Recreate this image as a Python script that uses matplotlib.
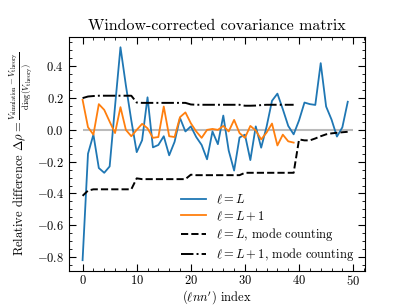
import numpy as np
import matplotlib
matplotlib.use("Agg")
import matplotlib.pyplot as plt

plt.rcParams['font.family'] = 'serif'
plt.rcParams['font.serif'] = ['cmr10']
plt.rcParams['mathtext.fontset'] = 'cm'
plt.rcParams['axes.formatter.use_mathtext'] = True

# relative difference, l = L
rho_L = [-0.82, -0.15, -0.03, -0.24, -0.27, -0.23, 0.15, 0.52, 0.28, 0.06,
         -0.14, -0.065, 0.205, -0.11, -0.095, -0.04, -0.16, -0.075, 0.075, -0.01,
         0.022, -0.045, -0.095, -0.185, -0.01, -0.09, 0.09, -0.13, -0.256, -0.048,
         -0.03, -0.19, 0.022, -0.112, 0.02, 0.183, 0.228, 0.13, 0.025, -0.028,
         0.06, 0.172, 0.162, 0.157, 0.42, 0.147, 0.065, -0.042, 0.016, 0.177]
# relative difference, l = L+1
rho_L1 = [0.189, 0.017, -0.03, 0.162, 0.126, 0.052, -0.02, 0.143, 0.0, -0.04,
          0.0, 0.038, 0.01, -0.05, -0.045, 0.147, -0.04, -0.045, 0.08, 0.11,
          0.042, -0.01, -0.05, 0.0, 0.006, 0.0, 0.025, -0.01, 0.063, -0.02,
          -0.05, 0.025, -0.004, -0.06, -0.017, 0.04, -0.098, -0.03, -0.072, -0.08]
# mode counting, l = L
mc_L = [-0.415, -0.382, -0.374, -0.374, -0.374, -0.374, -0.374, -0.374, -0.374, -0.374,
        -0.305, -0.31, -0.31, -0.31, -0.31, -0.31, -0.31, -0.31, -0.31, -0.31,
        -0.282, -0.285, -0.285, -0.285, -0.285, -0.285, -0.285, -0.285, -0.285, -0.285,
        -0.27, -0.27, -0.27, -0.27, -0.27, -0.27, -0.27, -0.27, -0.27, -0.27,
        -0.06, -0.066, -0.066, -0.054, -0.04, -0.028, -0.022, -0.018, -0.015, -0.012]
# mode counting, l = L+1
mc_L1 = [0.2, 0.21, 0.213, 0.215, 0.215, 0.215, 0.215, 0.215, 0.215, 0.215,
         0.172, 0.17, 0.17, 0.17, 0.17, 0.17, 0.17, 0.17, 0.17, 0.17,
         0.16, 0.158, 0.158, 0.158, 0.158, 0.158, 0.158, 0.158, 0.158, 0.158,
         0.152, 0.152, 0.153, 0.156, 0.158, 0.158, 0.158, 0.158, 0.158, 0.158]

fig = plt.figure(figsize=(4.07, 3.05), dpi=100)
ax = fig.add_axes([0.169, 0.112, 0.728, 0.768])

ax.hlines(0, 0, 50, color='#bbbbbb', lw=1.5, zorder=0)
ax.plot(range(len(rho_L)), rho_L, color='C0', lw=1.3, label=r'$\ell = L$')
ax.plot(range(len(rho_L1)), rho_L1, color='C1', lw=1.3, label=r'$\ell = L+1$')
ax.plot(range(len(mc_L)), mc_L, 'k--', lw=1.4, label=r'$\ell = L$, mode counting')
ax.plot(range(len(mc_L1)), mc_L1, 'k-.', lw=1.4, label=r'$\ell = L+1$, mode counting')

ax.set_xlim(-2.55, 52.2)
ax.set_ylim(-0.887, 0.587)
ax.set_xticks([0, 10, 20, 30, 40, 50])
ax.set_xticks(np.arange(0, 53, 2), minor=True)
ax.set_yticks([-0.8, -0.6, -0.4, -0.2, 0.0, 0.2, 0.4])
ax.set_yticks(np.arange(-0.85, 0.6, 0.05), minor=True)
ax.tick_params(which='both', direction='in', top=True, right=True, labelsize=9)
ax.tick_params(which='major', length=5)
ax.tick_params(which='minor', length=2.5)
ax.tick_params(axis='x', pad=2.5)

ax.set_title('Window-corrected covariance matrix', fontsize=11.5, pad=5)
ax.set_xlabel(r"$(\ell n n')$ index", fontsize=9, labelpad=0)
ax.set_ylabel(r'Relative difference $\Delta\rho = \frac{V_{\rm simulation} - V_{\rm theory}}{\mathrm{diag}(V_{\rm theory})}$',
              fontsize=9, labelpad=2)
ax.legend(loc='lower right', frameon=False, fontsize=9, labelspacing=0.25,
          bbox_to_anchor=(1.0, -0.015))

fig.savefig('out.png', dpi=100)
